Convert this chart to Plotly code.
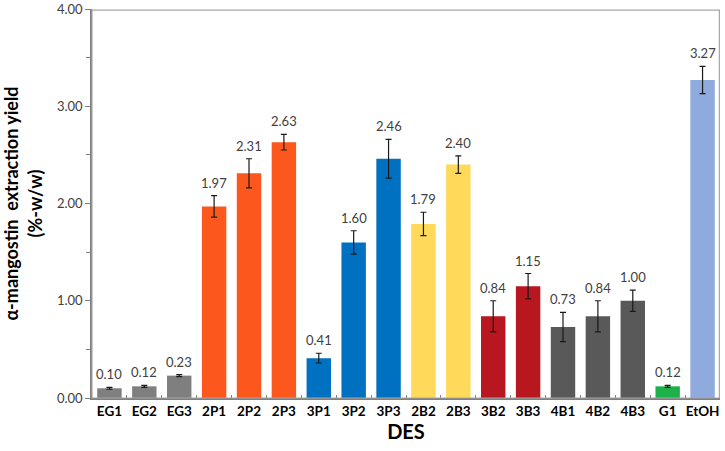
import plotly.graph_objects as go

# DES samples and measured yields
categories = ["EG1", "EG2", "EG3", "2P1", "2P2", "2P3", "3P1", "3P2", "3P3",
              "2B2", "2B3", "3B2", "3B3", "4B1", "4B2", "4B3", "G1", "EtOH"]
yields = [0.10, 0.12, 0.23, 1.97, 2.31, 2.63, 0.41, 1.60, 2.46,
          1.79, 2.40, 0.84, 1.15, 0.73, 0.84, 1.00, 0.12, 3.27]
errors = [0.01, 0.01, 0.01, 0.11, 0.15, 0.08, 0.05, 0.12, 0.20,
          0.12, 0.09, 0.16, 0.13, 0.15, 0.16, 0.11, 0.01, 0.14]
bar_colors = ["#7f7f7f", "#7f7f7f", "#7f7f7f",
              "#fc571d", "#fc571d", "#fc571d",
              "#0070c0", "#0070c0", "#0070c0",
              "#ffd95a", "#ffd95a",
              "#b8171f", "#b8171f",
              "#595959", "#595959", "#595959",
              "#1db249", "#8faadc"]

fig = go.Figure()
fig.add_trace(go.Bar(
    x=categories, y=yields,
    marker=dict(color=bar_colors, line=dict(width=0)),
    error_y=dict(type="data", array=errors, color="#1a1a1a", thickness=1.2, width=3),
    showlegend=False,
))

for c, v, e in zip(categories, yields, errors):
    fig.add_annotation(x=c, y=v + e, text=f"{v:.2f}", showarrow=False,
                       yanchor="bottom", yshift=3,
                       font=dict(family="Lato", size=13, color="#404040"))

# light frame around the plot area
fig.add_shape(type="rect", xref="paper", yref="paper", x0=0, x1=0.999, y0=0, y1=0.997,
              line=dict(color="#a6a6a6", width=1.2), layer="above")

fig.update_layout(
    width=725, height=451,
    margin=dict(l=92, r=5, t=9, b=53),
    plot_bgcolor="white", paper_bgcolor="white",
    bargap=0.3,
    font=dict(family="Lato", color="#000000"),
)
fig.update_xaxes(
    showline=True, linecolor="#7f7f7f", linewidth=1.5,
    ticks="inside", ticklen=3, tickcolor="#7f7f7f", tickson="boundaries",
    tickangle=0, automargin=False,
    tickfont=dict(size=13.5, family="Lato", weight="bold"),
    title=dict(text="<b>DES</b>", font=dict(size=20), standoff=5),
)
fig.update_yaxes(
    range=[0, 4], dtick=1, tickformat=".2f",
    showline=True, linecolor="#7f7f7f", linewidth=1.5,
    ticks="outside", ticklen=5, tickcolor="#7f7f7f",
    minor=dict(dtick=0.5, ticks="outside", ticklen=4, tickcolor="#7f7f7f"),
    showgrid=False, zeroline=False, automargin=False,
    tickfont=dict(size=13, color="#404040"),
    title=dict(text="<b>α-mangostin  extraction yield<br>(%-w/w)</b>",
               font=dict(size=18), standoff=10),
)

# drop the browser's default body margin so the figure fills the window
fig.write_html("out.html", config={"displayModeBar": False},
               post_script="document.body.style.margin='0';")
